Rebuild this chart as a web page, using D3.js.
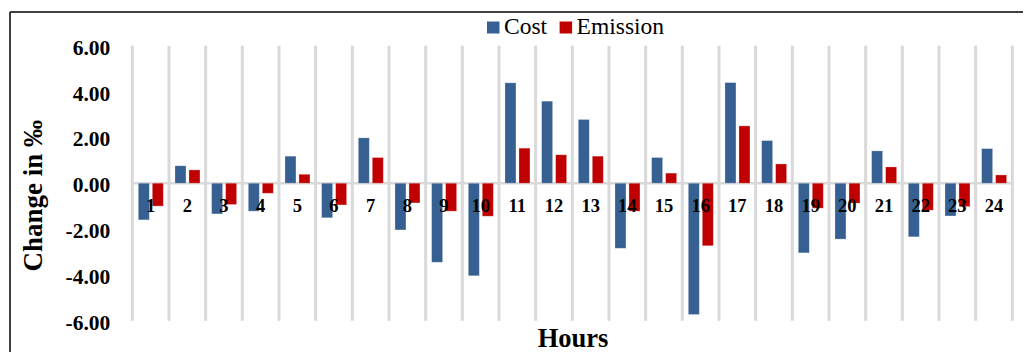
<!DOCTYPE html>
<html>
<head>
<meta charset="utf-8">
<script src="https://cdn.jsdelivr.net/npm/d3@7"></script>
<style>
  html, body { margin: 0; padding: 0; background: #fff; }
  svg { display: block; }
  svg text { font-family: "Liberation Serif", "Times New Roman", serif !important; }
</style>
</head>
<body>
<svg id="chart" width="1025" height="352"></svg>
<script>
// Hourly change (per mille) in cost and emission
const hours = d3.range(1, 25).map(String);
const costChange = [-1.60, 0.76, -1.34, -1.22, 1.18, -1.51, 1.98, -2.04,
                    -3.45, -4.04, 4.38, 3.58, 2.78, -2.84, 1.12, -5.73,
                    4.39, 1.86, -3.04, -2.44, 1.41, -2.34, -1.43, 1.51];
const emissionChange = [-1.00, 0.58, -0.93, -0.44, 0.39, -0.95, 1.12, -0.86,
                        -1.22, -1.44, 1.53, 1.24, 1.18, -1.22, 0.44, -2.73,
                        2.50, 0.84, -1.09, -0.87, 0.71, -1.18, -1.02, 0.36];
const seriesNames = ["Cost", "Emission"];
const seriesColors = ["#376092", "#C00000"];
const yTicks = [-6, -4, -2, 0, 2, 4, 6];

const svg = d3.select("#chart");

const plot = { left: 132.3, right: 1012.3, top: 45.7, bottom: 320.7 };

const x = d3.scaleBand().domain(hours).range([plot.left, plot.right]).padding(0);
const xInner = d3.scaleBand().domain(seriesNames).range([6, 31]).paddingInner(0.214);
const y = d3.scaleLinear().domain([-6, 6]).range([plot.bottom, plot.top]);
const color = d3.scaleOrdinal().domain(seriesNames).range(seriesColors);

// number format with a plain hyphen as the minus sign
const fmt = d3.formatLocale({ decimal: ".", thousands: ",", grouping: [3], currency: ["", ""], minus: "-" }).format(".2f");

// outer frame (top and left edges)
svg.append("line").attr("x1", 10).attr("x2", 1023).attr("y1", 12).attr("y2", 12)
  .attr("stroke", "#000").attr("stroke-width", 1.5);
svg.append("line").attr("x1", 10).attr("x2", 10).attr("y1", 12).attr("y2", 352)
  .attr("stroke", "#000").attr("stroke-width", 1.5);

// vertical gridlines at category boundaries
const bounds = hours.map(h => x(h)).concat([x(hours[hours.length - 1]) + x.bandwidth()]);
svg.append("g").selectAll("line").data(bounds).join("line")
  .attr("x1", d => d).attr("x2", d => d)
  .attr("y1", plot.top).attr("y2", plot.bottom)
  .attr("stroke", "#d9d9d9").attr("stroke-width", 3);

// zero baseline
svg.append("line")
  .attr("x1", plot.left).attr("x2", plot.right)
  .attr("y1", y(0)).attr("y2", y(0))
  .attr("stroke", "#d9d9d9").attr("stroke-width", 2.5);

// bars
const rows = hours.map((h, i) => ({ hour: h, values: [
  { key: "Cost", value: costChange[i] },
  { key: "Emission", value: emissionChange[i] }
]}));

svg.append("g").selectAll("g").data(rows).join("g")
  .attr("transform", d => `translate(${x(d.hour)},0)`)
  .selectAll("rect").data(d => d.values).join("rect")
  .attr("x", d => xInner(d.key))
  .attr("width", xInner.bandwidth())
  .attr("y", d => y(Math.max(0, d.value)))
  .attr("height", d => Math.abs(y(d.value) - y(0)))
  .attr("fill", d => color(d.key))
  .attr("stroke", "#ffffff").attr("stroke-opacity", 0.35).attr("stroke-width", 0.75);

// hour labels beside the zero line
svg.append("g").selectAll("text").data(hours).join("text")
  .attr("x", d => x(d) + x.bandwidth() / 2)
  .attr("y", 212)
  .attr("text-anchor", "middle")
  .attr("font-size", 18.5).attr("font-weight", "bold").attr("fill", "#000")
  .text(d => d);

// y axis tick labels
const yAxis = svg.append("g")
  .attr("transform", `translate(${plot.left},0)`)
  .call(d3.axisLeft(y).tickValues(yTicks).tickFormat(fmt).tickSize(0).tickPadding(22));
yAxis.select(".domain").remove();
yAxis.attr("font-family", null);
yAxis.selectAll("text")
  .attr("font-size", 21.5).attr("font-weight", "bold").attr("fill", "#000")
  .attr("dy", "0.4em");

// axis titles
svg.append("text")
  .attr("transform", "translate(41.5,195.7) rotate(-90)")
  .attr("text-anchor", "middle")
  .attr("font-size", 27).attr("font-weight", "bold").attr("fill", "#000")
  .text("Change in ‰");

svg.append("text")
  .attr("x", 573).attr("y", 347)
  .attr("text-anchor", "middle")
  .attr("font-size", 26.5).attr("font-weight", "bold").attr("fill", "#000")
  .text("Hours");

// legend
const legend = svg.append("g").attr("transform", "translate(487,0)");
let lx = 0;
seriesNames.forEach(name => {
  const item = legend.append("g").attr("transform", `translate(${lx},0)`);
  item.append("rect").attr("x", 0).attr("y", 21.5).attr("width", 12.5).attr("height", 12)
    .attr("fill", color(name));
  const t = item.append("text").attr("x", 17).attr("y", 34)
    .attr("font-size", 23.5).attr("fill", "#000").text(name);
  lx += 17 + t.node().getComputedTextLength() + 12.5;
});
</script>
</body>
</html>
